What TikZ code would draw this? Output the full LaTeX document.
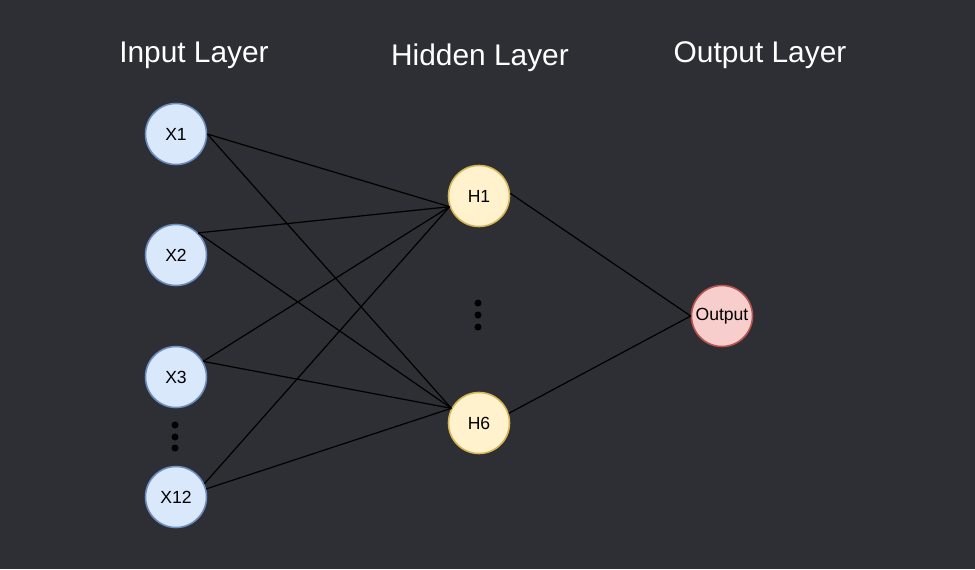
\documentclass[tikz,border=0pt]{standalone}
\usepackage{fontspec}
\setmainfont{Liberation Sans}
\usetikzlibrary{positioning}

\definecolor{bgdark}{HTML}{2E2F34}
\definecolor{infill}{HTML}{DAE8FC}
\definecolor{indraw}{HTML}{6C8EBF}
\definecolor{hidfill}{HTML}{FFF2CC}
\definecolor{hiddraw}{HTML}{D6B656}
\definecolor{outfill}{HTML}{F8CECC}
\definecolor{outdraw}{HTML}{B85450}

\begin{document}
\begin{tikzpicture}[
		x=0.02cm, y=-0.02cm,
		neuron/.style = {circle, draw, line width=0.9pt, minimum size=1.22cm, inner sep=0pt, font=\fontsize{10}{12}\selectfont, text=black},
		inneuron/.style = {neuron, fill=infill, draw=indraw},
		hidneuron/.style = {neuron, fill=hidfill, draw=hiddraw},
		outneuron/.style = {neuron, fill=outfill, draw=outdraw},
		layer/.style = {text=white, font=\fontsize{17}{20}\selectfont},
		edge/.style = {draw=black, line width=0.7pt},
		vdot/.style = {circle, fill=black, inner sep=0pt, minimum size=0.14cm}
	]

	% background
	\fill[bgdark] (0,0) rectangle (975,569);
	\useasboundingbox (0,0) rectangle (975,569);

	% layer titles
	\node[layer] (tin) at (194,55) {Input Layer};
	\node[layer] (thid) at (480,58) {Hidden Layer};
	\node[layer] (tout) at (760,55) {Output Layer};

	% input layer
	\node[inneuron] (X1) at (176,134) {X1};
	\node[inneuron] (X2) at (176,255) {X2};
	\node[inneuron] (X3) at (176,377) {X3};
	\node[inneuron] (X12) at (176,497) {X12};

	% hidden layer
	\node[hidneuron] (H1) at (479,196) {H1};
	\node[hidneuron] (H6) at (479,423) {H6};

	% output layer
	\node[outneuron] (out) at (722,316) {Output};

	% dots
	\foreach \y [count=\i] in {425,437,448} {
		\node[vdot] (din\i) at (175,\y) {};
	}
	\foreach \y [count=\i] in {303,315,327} {
		\node[vdot] (dhid\i) at (478,\y) {};
	}

	% connections
	\foreach \n/\a/\b in {X1/0/0, X2/45/45, X3/30/30, X12/25/15} {
		\draw[edge] (\n.\a) -- (H1.200);
		\draw[edge] (\n.\b) -- (H6.152);
	}
	\draw[edge] (H1.5) -- (out.west);
	\draw[edge] (H6.18) -- (out.west);
\end{tikzpicture}
\end{document}
